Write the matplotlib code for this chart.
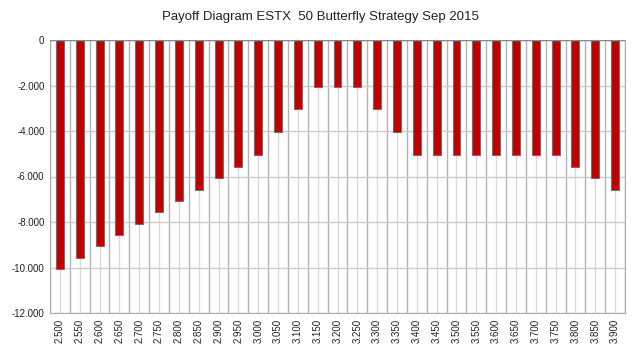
import numpy as np
import matplotlib.pyplot as plt

strikes = [2500, 2550, 2600, 2650, 2700, 2750, 2800, 2850, 2900, 2950,
           3000, 3050, 3100, 3150, 3200, 3250, 3300, 3350, 3400, 3450,
           3500, 3550, 3600, 3650, 3700, 3750, 3800, 3850, 3900]
payoff = [-10075, -9575, -9075, -8575, -8075, -7575, -7075, -6575, -6075, -5575,
          -5050, -4050, -3050, -2050, -2050, -2050, -3050, -4050, -5050, -5050,
          -5050, -5050, -5050, -5050, -5050, -5050, -5575, -6075, -6575]
yticks = [0, -2000, -4000, -6000, -8000, -10000, -12000]

def fmt(v):
    return '{:,}'.format(v).replace(',', '.')

plt.rcParams['font.family'] = ['Liberation Sans', 'DejaVu Sans']

fig = plt.figure(figsize=(6.4, 3.57), dpi=100)
ax = fig.add_axes([50/640, 1-313/357, 575/640, 273/357])

x = np.arange(len(strikes))
# grid: light lines at centres, darker at boundaries
for xi in x:
    ax.axvline(xi, color='#d9d9d9', lw=1, zorder=0)
for xi in np.arange(len(strikes) + 1) - 0.5:
    ax.axvline(xi, color='#b3b3b3', lw=1, zorder=0)
for yv in yticks:
    ax.axhline(yv, color='#cccccc', lw=1, zorder=0)

ax.bar(x, payoff, width=0.4, color='#c00000', edgecolor='#6f6f6f', lw=0.8, zorder=2)
ax.axhline(0, color='#888888', lw=1, zorder=3)

ax.set_xlim(-0.5, len(strikes) - 0.5)
ax.set_ylim(-12000, 0)
ax.set_xticks(x)
ax.set_xticklabels([fmt(s) for s in strikes], rotation=90, fontsize=7, color='#222222')
ax.set_yticks(yticks)
ax.set_yticklabels([fmt(v) for v in yticks], fontsize=7, color='#222222')
ax.tick_params(length=0, pad=4)
ax.spines['top'].set_visible(False)
for side in ['left', 'right', 'bottom']:
    ax.spines[side].set_color('#aaaaaa')

fig.text(320/640, 1-17/357, 'Payoff Diagram ESTX  50 Butterfly Strategy Sep 2015',
         ha='center', va='center', fontsize=9.5, color='#222222')

fig.savefig('out.png', dpi=100)
